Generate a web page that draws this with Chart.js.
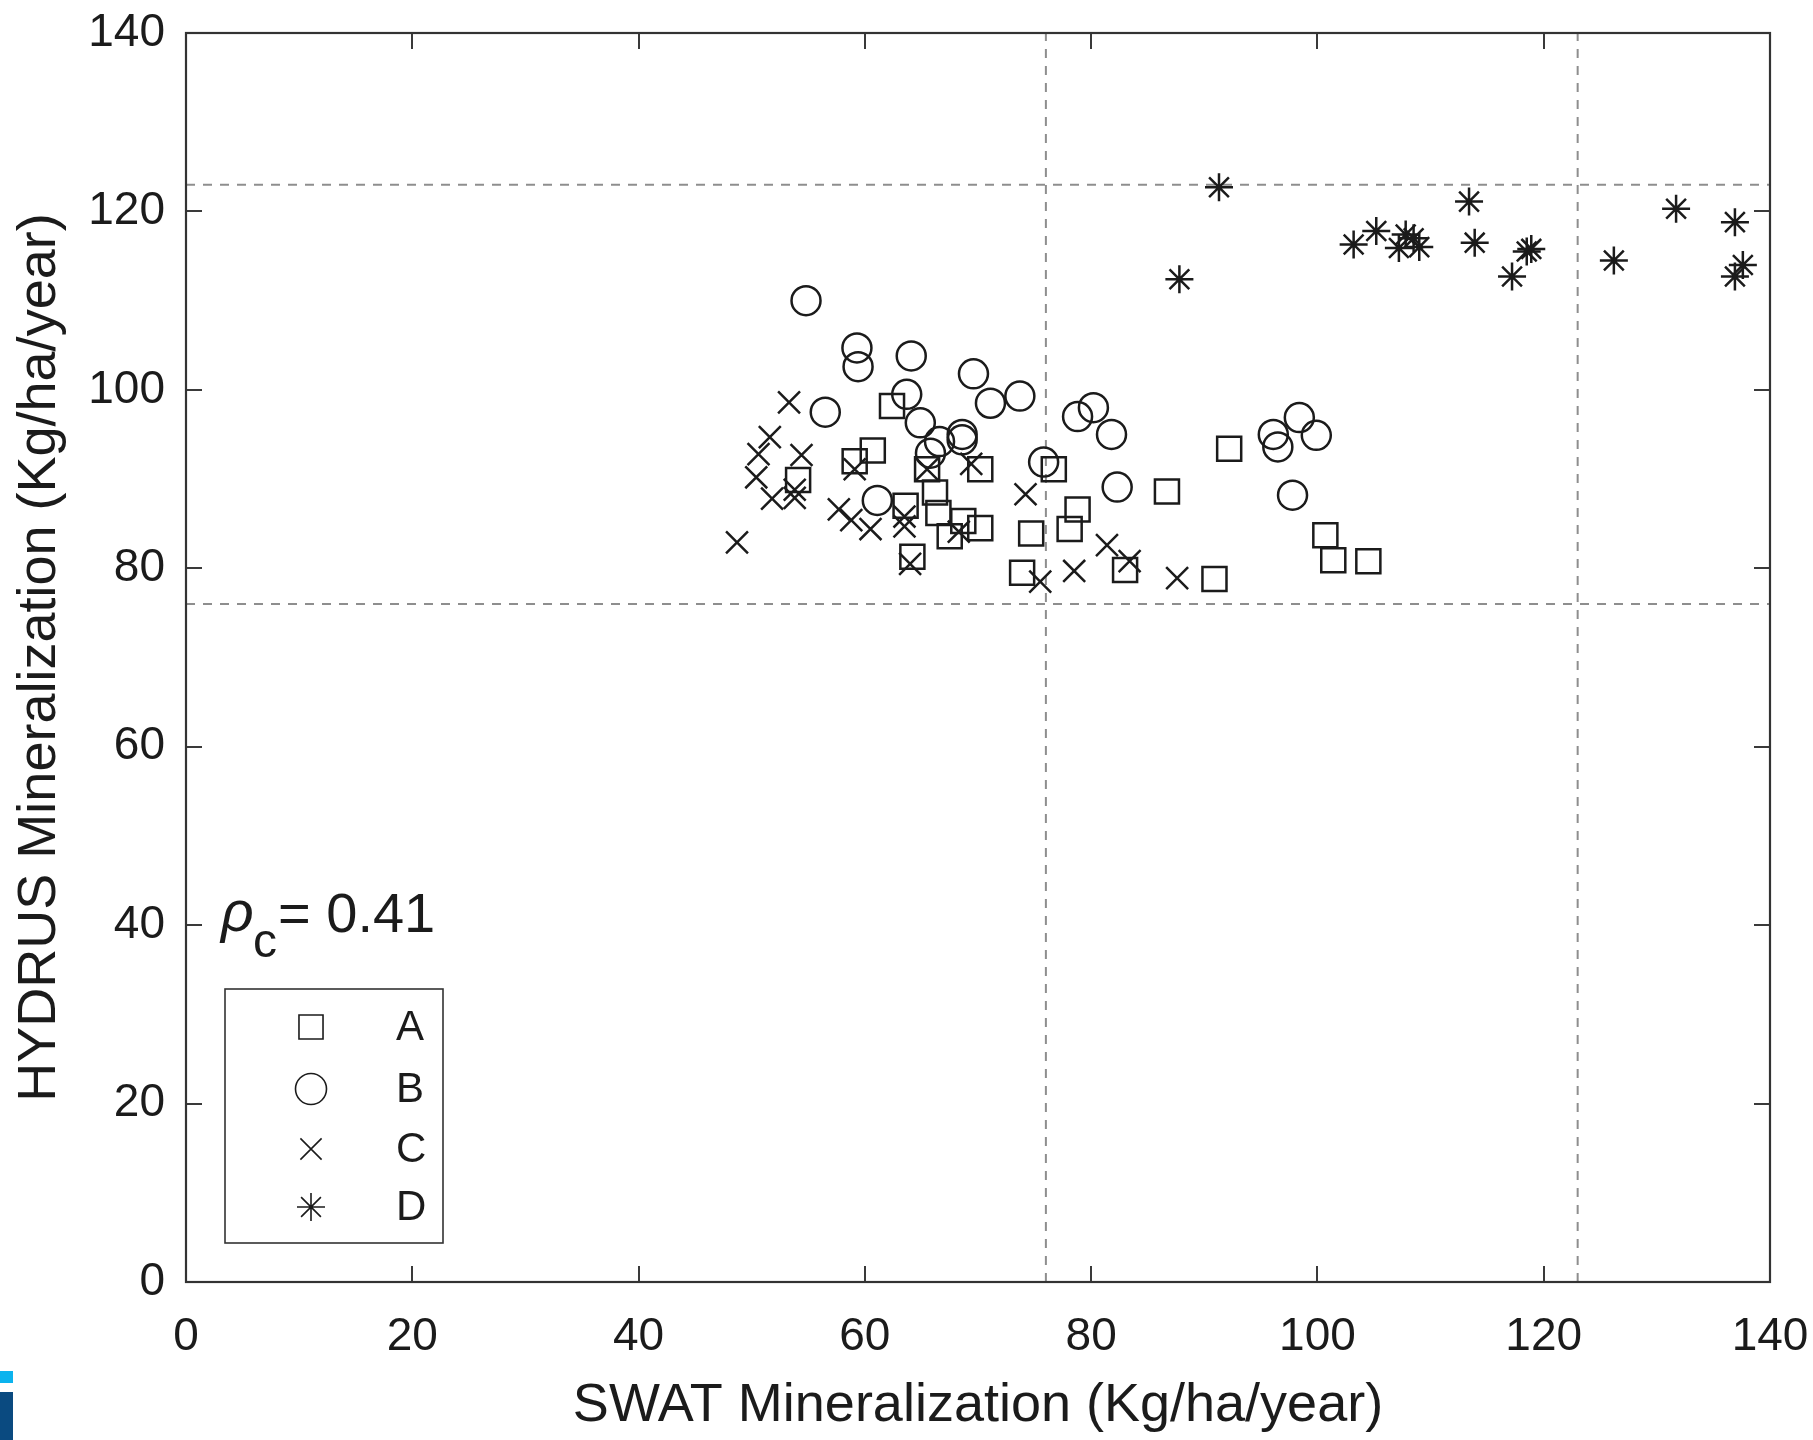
<!DOCTYPE html>
<html>
<head>
<meta charset="utf-8">
<title>SWAT vs HYDRUS Mineralization</title>
<script src="https://cdn.jsdelivr.net/npm/chart.js@4.4.1/dist/chart.umd.min.js"></script>
<style>
  html, body { margin: 0; padding: 0; background: #fff; }
  #wrap { position: relative; width: 1813px; height: 1440px; overflow: hidden; }
  canvas { display: block; }
  .tag-light { position: absolute; left: 0; top: 1371px; width: 13px; height: 12px; background: #0bb3ee; }
  .tag-dark  { position: absolute; left: 0; top: 1392px; width: 13px; height: 48px; background: #0a4a80; }
</style>
</head>
<body>
<div id="wrap">
  <canvas id="chart" width="1813" height="1440"></canvas>
  <div class="tag-light"></div>
  <div class="tag-dark"></div>
</div>
<script>
// Group A (squares)
const groupA_x = [62.4, 60.7, 59.1, 54.1, 65.5, 70.2, 66.2, 63.6, 66.5, 68.7, 70.2, 67.5, 64.2,
                  76.7, 74.7, 78.1, 78.8, 73.9, 83.0, 86.7, 92.2, 90.9, 100.7, 101.4, 104.5];
const groupA_y = [98.2, 93.2, 92.0, 89.9, 91.1, 91.1, 88.5, 87.0, 86.2, 85.3, 84.5, 83.6, 81.3,
                  91.1, 83.9, 84.4, 86.6, 79.5, 79.8, 88.6, 93.4, 78.8, 83.7, 80.9, 80.8];
// Group B (circles)
const groupB_x = [54.8, 59.3, 59.4, 64.1, 69.6, 71.1, 56.5, 63.7, 64.9, 68.6, 68.6, 66.6, 65.8,
                  61.1, 73.7, 78.8, 80.2, 81.8, 75.8, 82.3, 96.1, 96.5, 98.4, 99.9, 97.8];
const groupB_y = [110.0, 104.7, 102.6, 103.8, 101.8, 98.5, 97.5, 99.5, 96.3, 95.0, 94.4, 94.2, 92.9,
                  87.6, 99.3, 97.0, 98.0, 95.0, 91.9, 89.1, 95.0, 93.6, 96.9, 94.9, 88.2];
// Group C (x marks)
const groupC_x = [53.3, 51.6, 50.6, 54.4, 50.4, 59.1, 51.8, 53.8, 53.8, 57.7, 58.8, 60.5, 63.5,
                  63.5, 65.5, 69.4, 68.3, 48.7, 64.0, 74.2, 75.5, 78.5, 81.4, 83.4, 87.6];
const groupC_y = [98.6, 94.7, 92.8, 92.7, 90.2, 91.1, 87.8, 88.8, 87.9, 86.6, 85.4, 84.4, 85.8,
                  84.7, 91.1, 91.7, 84.1, 82.9, 80.5, 88.3, 78.5, 79.7, 82.6, 80.8, 78.9];
// Group D (asterisks)
const groupD_x = [91.3, 87.8, 103.2, 105.2, 107.2, 107.8, 108.5, 109.0, 113.4, 113.9, 118.5, 118.9,
                  117.2, 126.2, 131.7, 136.9, 137.6, 136.9];
const groupD_y = [122.7, 112.4, 116.3, 117.8, 115.9, 117.4, 117.0, 116.0, 121.1, 116.5, 115.5, 115.8,
                  112.7, 114.5, 120.3, 118.8, 114.0, 112.7];

const groupNames = ['A', 'B', 'C', 'D'];
const axisTicks = [0, 20, 40, 60, 80, 100, 120, 140];
// Dashed reference limits (same on both axes)
const refLimits = [76, 123];
const concordance = '0.41';

const FONT = "'Liberation Sans', Arial, Helvetica, sans-serif";
const INK = '#1b1b1b';

function pts(xs, ys) { return xs.map((x, i) => ({ x: x, y: ys[i] })); }

const markerStyles = [
  { pointStyle: 'rect',     radius: 17 },
  { pointStyle: 'circle',   radius: 14.5 },
  { pointStyle: 'crossRot', radius: 15.5 },
  { pointStyle: 'star',     radius: 14 }
];
const groupData = [pts(groupA_x, groupA_y), pts(groupB_x, groupB_y), pts(groupC_x, groupC_y), pts(groupD_x, groupD_y)];

const datasets = [];
refLimits.forEach(v => {
  datasets.push({ type: 'line', data: [{ x: v, y: 0 }, { x: v, y: 140 }], borderColor: '#8e8e8e', borderWidth: 2,
    borderDash: [9, 8], pointRadius: 0, fill: false, order: 5 });
  datasets.push({ type: 'line', data: [{ x: 0, y: v }, { x: 140, y: v }], borderColor: '#8e8e8e', borderWidth: 2,
    borderDash: [9, 8], pointRadius: 0, fill: false, order: 5 });
});
groupNames.forEach((name, i) => {
  datasets.push({
    type: 'scatter', label: name, data: groupData[i],
    pointStyle: markerStyles[i].pointStyle, pointRadius: markerStyles[i].radius,
    pointBorderColor: INK, pointBackgroundColor: 'rgba(0,0,0,0)', pointBorderWidth: 2.5,
    order: 0
  });
});

// Small marker painter for the legend box
function paintMarker(ctx, style, x, y, r) {
  ctx.beginPath();
  if (style === 'rect') {
    const s = r * Math.SQRT1_2;
    ctx.rect(x - s, y - s, 2 * s, 2 * s);
  } else if (style === 'circle') {
    ctx.arc(x, y, r, 0, Math.PI * 2);
  } else {
    const d = r * Math.SQRT1_2;
    if (style === 'star') {
      ctx.moveTo(x - r, y); ctx.lineTo(x + r, y);
      ctx.moveTo(x, y - r); ctx.lineTo(x, y + r);
    }
    ctx.moveTo(x - d, y - d); ctx.lineTo(x + d, y + d);
    ctx.moveTo(x - d, y + d); ctx.lineTo(x + d, y - d);
  }
  ctx.stroke();
}

const framePlugin = {
  id: 'frame',
  afterDraw(chart) {
    const { ctx, chartArea: a, scales: { x, y } } = chart;
    ctx.save();
    // inner tick marks on all four sides
    ctx.strokeStyle = '#3a3a3a';
    ctx.lineWidth = 2;
    const tl = 16;
    ctx.beginPath();
    axisTicks.forEach(t => {
      const px = Math.round(x.getPixelForValue(t));
      const py = Math.round(y.getPixelForValue(t));
      ctx.moveTo(px, a.bottom); ctx.lineTo(px, a.bottom - tl);
      ctx.moveTo(px, a.top); ctx.lineTo(px, a.top + tl);
      ctx.moveTo(a.left, py); ctx.lineTo(a.left + tl, py);
      ctx.moveTo(a.right, py); ctx.lineTo(a.right - tl, py);
    });
    ctx.stroke();
    // box
    ctx.strokeStyle = '#333';
    ctx.lineWidth = 2.2;
    ctx.strokeRect(a.left, a.top, a.right - a.left, a.bottom - a.top);

    // concordance annotation
    ctx.fillStyle = INK;
    ctx.textBaseline = 'alphabetic';
    ctx.textAlign = 'left';
    ctx.font = 'italic 57px ' + FONT;
    ctx.fillText('\u03C1', 221, 931);
    ctx.font = '48px ' + FONT;
    ctx.fillText('c', 253, 957);
    ctx.font = '56px ' + FONT;
    ctx.fillText('= ' + concordance, 278, 932);

    // legend box
    const bx = 225, by = 989, bw = 218, bh = 254;
    ctx.fillStyle = '#fff';
    ctx.fillRect(bx, by, bw, bh);
    ctx.strokeStyle = '#333';
    ctx.lineWidth = 1.6;
    ctx.strokeRect(bx, by, bw, bh);
    const rowsY = [1027, 1089, 1149, 1207];
    const legendR = [17, 15.5, 15, 14];
    ctx.strokeStyle = INK;
    ctx.lineWidth = 1.6;
    groupNames.forEach((name, i) => {
      paintMarker(ctx, markerStyles[i].pointStyle, 311, rowsY[i], legendR[i]);
      ctx.fillStyle = INK;
      ctx.font = '42px ' + FONT;
      ctx.textBaseline = 'middle';
      ctx.fillText(name, 396, rowsY[i] + 1);
    });
    ctx.restore();
  }
};

new Chart(document.getElementById('chart'), {
  type: 'scatter',
  data: { datasets: datasets },
  options: {
    responsive: false,
    animation: false,
    devicePixelRatio: 1,
    layout: { padding: { left: 0, right: 43, top: 33, bottom: 0 } },
    plugins: { legend: { display: false }, tooltip: { enabled: false } },
    elements: { line: { tension: 0 } },
    scales: {
      x: {
        type: 'linear', min: 0, max: 140, position: 'bottom',
        afterBuildTicks: s => { s.ticks = axisTicks.map(v => ({ value: v })); },
        ticks: { font: { family: FONT, size: 46 }, color: INK, padding: 28, maxRotation: 0, autoSkip: false },
        grid: { display: false, drawTicks: false },
        border: { display: false },
        title: { display: true, text: 'SWAT Mineralization (Kg/ha/year)', color: INK,
                 font: { family: FONT, size: 54 }, padding: { top: 0, bottom: 1 } },
        afterFit: s => { s.height = 158; s.paddingLeft = 0; s.paddingRight = 0; }
      },
      y: {
        type: 'linear', min: 0, max: 140, position: 'left',
        afterBuildTicks: s => { s.ticks = axisTicks.map(v => ({ value: v })); },
        ticks: { font: { family: FONT, size: 46 }, color: INK, padding: 21, autoSkip: false },
        grid: { display: false, drawTicks: false },
        border: { display: false },
        title: { display: true, text: 'HYDRUS Mineralization (Kg/ha/year)', color: INK,
                 font: { family: FONT, size: 54 }, padding: { top: 8, bottom: 0 } },
        afterFit: s => { s.width = 186; s.paddingTop = 0; s.paddingBottom = 0; }
      }
    }
  },
  plugins: [framePlugin]
});
</script>
</body>
</html>
